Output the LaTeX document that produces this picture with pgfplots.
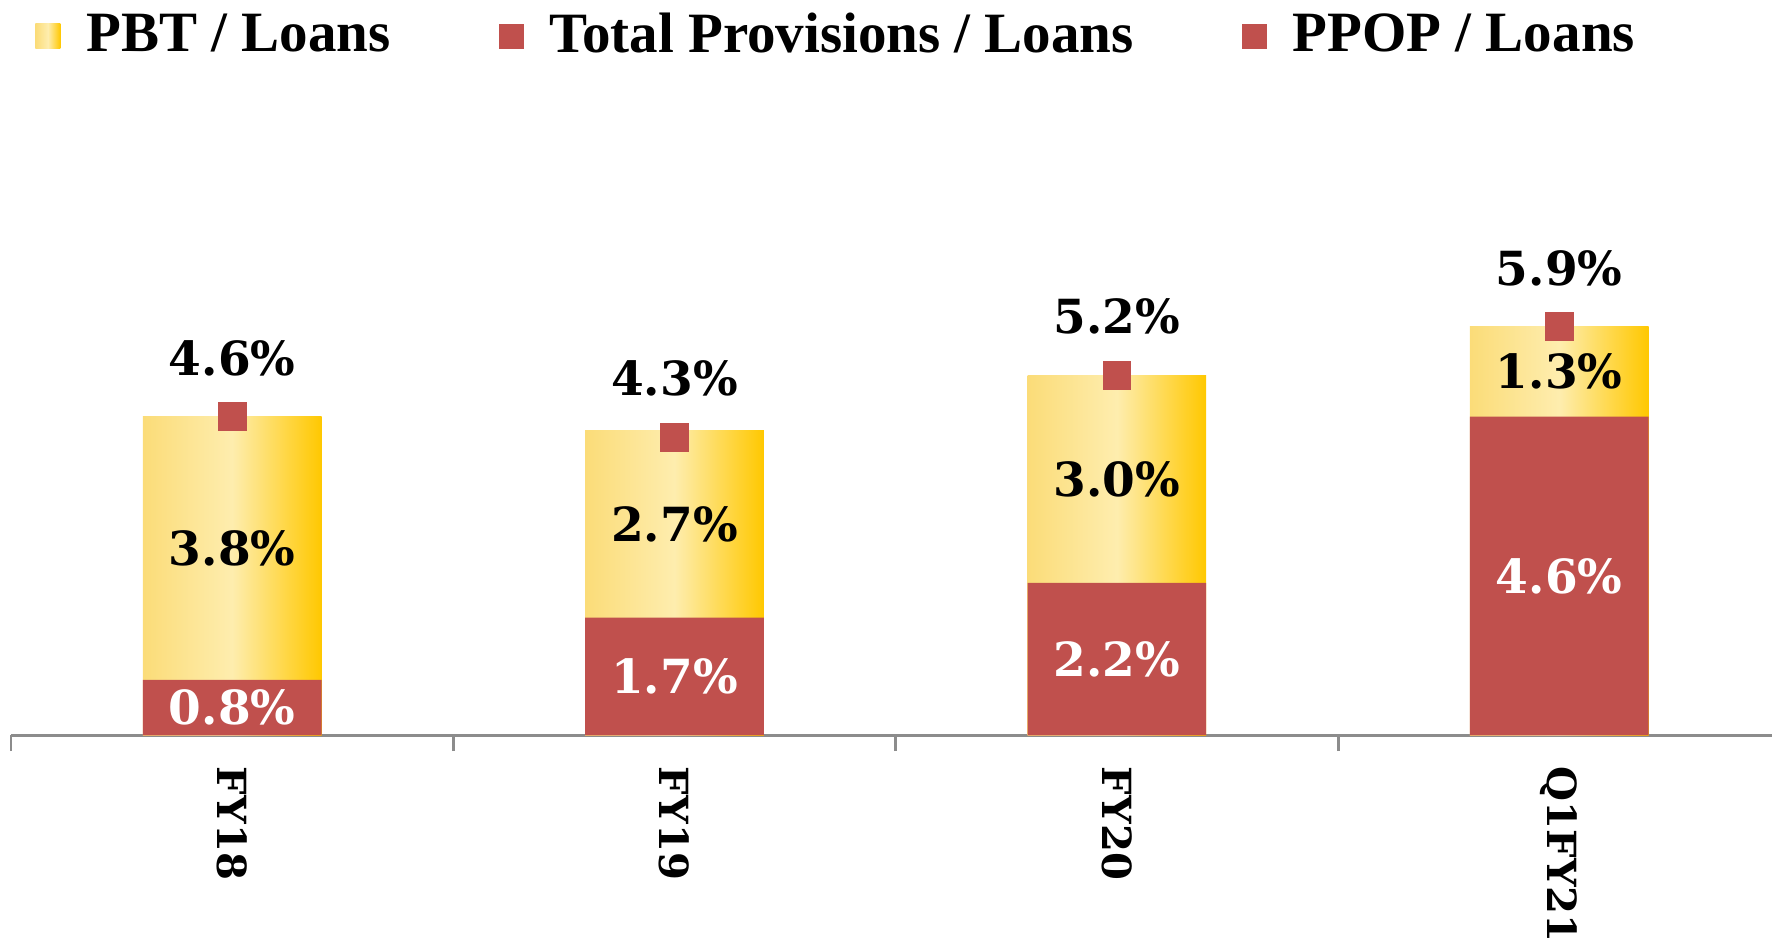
\documentclass[border=0pt]{standalone}
\usepackage{pgfplots}
\pgfplotsset{compat=1.18}
\usepackage{pgfplotstable}
\usepackage{fontspec}
\setmainfont{DejaVu Serif}
\newfontfamily\legfont{Liberation Serif}

\definecolor{provred}{HTML}{C0504D}
\definecolor{yL}{HTML}{FBDC78}
\definecolor{yM}{HTML}{FEEDAE}
\definecolor{yR}{HTML}{FFC800}
\definecolor{axgray}{HTML}{8C8C8C}

\pgfplotstableread{
x prov pbt ppop
0 0.8 3.8 4.6
1 1.7 2.7 4.3
2 2.2 3.0 5.2
3 4.6 1.3 5.9
}\data

\pgfplotsset{
  base/.style={
    scale only axis, width=423.1pt, height=176.4pt,
    xmin=-0.5, xmax=3.48, ymin=0, ymax=10.6,
  },
  lbl/.style={
    nodes near coords={\pgfmathprintnumber[fixed,fixed zerofill,precision=1,assume math mode=true]{\pgfplotspointmeta}\%},
    point meta=explicit,
  },
  ybarstyle/.style={forget plot, draw=none, bar shift=0pt, left color=yL, right color=yR, middle color=yM},
}

\begin{document}
\begin{tikzpicture}
\begin{axis}[base,
  ybar, bar width=0.404, bar shift=0pt,
  axis x line=bottom, axis y line=none,
  x axis line style={-, axgray, line width=0.7pt},
  ytick=\empty,
  xtick={0,1,2,3}, xticklabels={FY18,FY19,FY20,Q1FY21},
  major tick length=0pt,
  minor xtick={-0.5,0.5,1.5,2.5},
  minor tick length=3.8pt, tick align=outside,
  every tick/.style={axgray, line width=0.7pt},
  xticklabel shift=7.4pt,
  xticklabel style={rotate=-90, anchor=west, inner sep=0pt,
    font=\bfseries\fontsize{9.65}{12}\selectfont},
  legend columns=3,
  legend cell align=left,
  legend style={draw=none, fill=none, at={(0.4705,1)}, anchor=north,
    inner xsep=0pt, inner ysep=1.2pt, yshift=0.5pt,
    font=\legfont\bfseries\fontsize{13.7}{16}\selectfont,
    /tikz/every odd column/.append style={column sep=4.2pt},
    /tikz/every even column/.append style={column sep=24pt}},
]
\addplot[ybarstyle] table[x=x, y expr=\thisrow{prov}+\thisrow{pbt}, restrict x to domain=-0.1:0.1]{\data};
\addplot[ybarstyle] table[x=x, y expr=\thisrow{prov}+\thisrow{pbt}, restrict x to domain=0.9:1.1]{\data};
\addplot[ybarstyle] table[x=x, y expr=\thisrow{prov}+\thisrow{pbt}, restrict x to domain=1.9:2.1]{\data};
\addplot[ybarstyle] table[x=x, y expr=\thisrow{prov}+\thisrow{pbt}, restrict x to domain=2.9:3.1]{\data};
\addplot[forget plot, fill=provred, draw=none, bar shift=0pt] table[x=x, y=prov]{\data};
\addlegendimage{legend image code/.code={\shade[draw=none, left color=yL, right color=yR, middle color=yM] (0pt,-3pt) rectangle (6pt,3pt);}}
\addlegendentry{PBT / Loans}
\addlegendimage{legend image code/.code={\fill[draw=none, provred] (0pt,-3pt) rectangle (6pt,3pt);}}
\addlegendentry{Total Provisions / Loans}
\addlegendimage{legend image code/.code={\fill[draw=none, provred] (0pt,-3pt) rectangle (6pt,3pt);}}
\addlegendentry{PPOP / Loans}
\end{axis}

\begin{axis}[base, hide axis,
  every node near coord/.style={font=\bfseries\fontsize{11.3}{13}\selectfont, anchor=center},
]
\addplot[draw=none, lbl, every node near coord/.append style={text=white}]
  table[x=x, y expr=\thisrow{prov}/2, meta=prov]{\data};
\addplot[draw=none, lbl, every node near coord/.append style={text=black}]
  table[x=x, y expr=\thisrow{prov}+\thisrow{pbt}/2, meta=pbt]{\data};
\addplot[only marks, mark=square*, mark size=3.25pt, color=provred, lbl,
  every node near coord/.append style={text=black, anchor=base, inner sep=0pt, yshift=10pt}]
  table[x=x, y=ppop, meta=ppop]{\data};
\end{axis}
\path ([xshift=-2.64pt]current axis.south west);
\end{tikzpicture}
\end{document}
